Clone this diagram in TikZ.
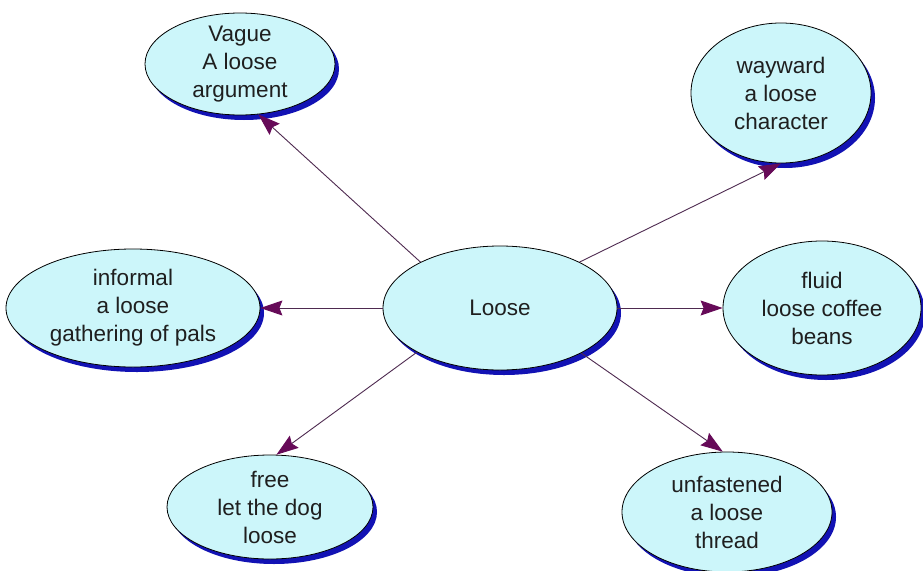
\documentclass[tikz,border=0pt]{standalone}
\usepackage{fontspec}
\setmainfont{Liberation Sans}
\usepackage{tikz}
\usepackage{xcolor}
\usetikzlibrary{
  arrows.meta, shapes.geometric, shadows,
}
\definecolor{cBubble}{HTML}{CCF6FA}
\definecolor{cShadow}{HTML}{1212B4}
\definecolor{cLink}  {HTML}{4E2A50}
\definecolor{cHead}  {HTML}{660A58}

\tikzset{
  bubble/.style={ellipse, draw=black, line width=0.8pt, fill=cBubble,
    inner xsep=0pt, inner ysep=-5pt, align=center, text=black!88,
    font=\fontsize{22.5}{28}\selectfont,
    drop shadow={shadow xshift=4pt, shadow yshift=-5pt, fill=cShadow, opacity=1}},
  link/.style={draw=cLink, line width=0.9pt,
    -{Stealth[length=22pt, width=15pt, inset=3pt, color=cHead]}},
}

\begin{document}
\begin{tikzpicture}[x=1pt, y=-1pt]
  \fill[white] (0,0) rectangle (923,570);
  \useasboundingbox (0,0) rectangle (923,570);

  % centre word
  \node[bubble, minimum width=234pt, minimum height=124pt] (loose) at (500,308) {Loose};

  % senses round it
  \node[bubble, minimum width=190pt, minimum height=102pt] (vague)      at (240,64)  {Vague\\A loose\\argument};
  \node[bubble, minimum width=180pt, minimum height=140pt] (wayward)    at (781,93)  {wayward\\a loose\\character};
  \node[bubble, minimum width=254pt, minimum height=118pt] (informal)   at (133,308) {informal\\a loose\\gathering of pals};
  \node[bubble, minimum width=198pt, minimum height=134pt] (fluid)      at (822,308) {fluid\\loose coffee\\beans};
  \node[bubble, minimum width=206pt, minimum height=104pt] (free)       at (270,507) {free\\let the dog\\loose};
  \node[bubble, minimum width=210pt, minimum height=120pt] (unfastened) at (727,512) {unfastened\\a loose\\thread};

  \foreach \src/\dst/\tip in {150/vague/290, 30/wayward/270, 180/informal/0,
                               0/fluid/180, 208/free/83, 331/unfastened/94}{
    \draw[link] (loose.\src) -- (\dst.\tip);
  }
\end{tikzpicture}
\end{document}
